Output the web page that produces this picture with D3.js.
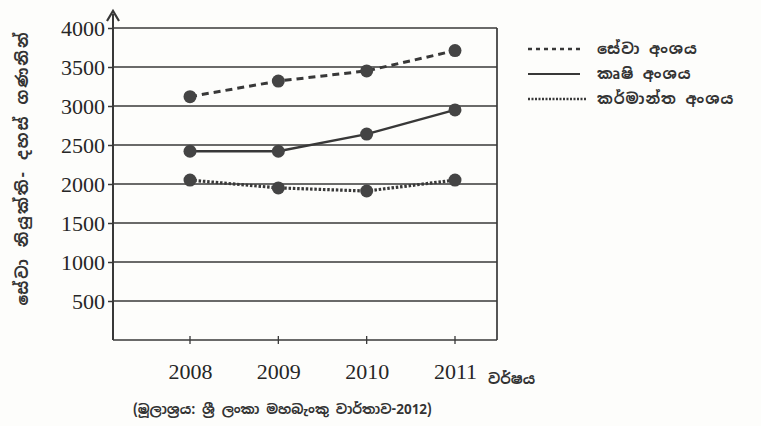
<!DOCTYPE html>
<html><head><meta charset="utf-8">
<script src="https://cdn.jsdelivr.net/npm/d3@7"></script>
<style>
body{margin:0;background:#fdfdfb;}
svg{display:block;}
.sin{font-family:"Noto Sans Sinhala","Noto Serif Sinhala","Iskoola Pota",sans-serif;}
</style></head>
<body><svg id="c" width="761" height="426"></svg>
<script>
const years = [2008, 2009, 2010, 2011];
const services = [3120, 3320, 3450, 3710];
const agriculture = [2420, 2420, 2640, 2950];
const industry = [2050, 1950, 1910, 2050];
const yTicks = [500, 1000, 1500, 2000, 2500, 3000, 3500, 4000];
const seriesNames = ["සේවා අංශය", "කෘෂි අංශය", "කර්මාන්ත අංශය"];
const yTitle = "සේවා නියුක්ති- දහස් ගණනින්";
const xTitle = "වර්ෂය";
const source = "(මූලාශ්‍රය: ශ්‍රී ලංකා මහබැංකු වාර්තාව-2012)";

const svg = d3.select("#c");
const ink = "#383838";
const L = 113, R = 497, T = 28, B = 340;
const y = d3.scaleLinear().domain([0, 4000]).range([B, T]);
const x = d3.scalePoint().domain(years).range([190, 455]);

// gridlines
svg.append("g").selectAll("line").data(yTicks).join("line")
  .attr("x1", L).attr("x2", R).attr("y1", d => y(d)).attr("y2", d => y(d))
  .attr("stroke", ink).attr("stroke-width", 1.7);
// right border & bottom
svg.append("line").attr("x1", R).attr("x2", R).attr("y1", T).attr("y2", B).attr("stroke", ink).attr("stroke-width", 1.7);
svg.append("line").attr("x1", L).attr("x2", R).attr("y1", B).attr("y2", B).attr("stroke", ink).attr("stroke-width", 1.7);

// y axis
const yAxis = d3.axisLeft(y).tickValues(yTicks).tickSize(5).tickFormat(d3.format("d"));
const gy = svg.append("g").attr("transform", `translate(${L},0)`).call(yAxis);
gy.select(".domain").remove();
gy.selectAll("line").attr("stroke", ink).attr("stroke-width", 1.5);
gy.selectAll("text").attr("x", -8).attr("font-family", "Liberation Serif, serif").attr("font-size", 22).attr("fill", "#262626");
// axis line with arrow
svg.append("line").attr("x1", L).attr("x2", L).attr("y1", 14).attr("y2", B).attr("stroke", ink).attr("stroke-width", 2);
svg.append("path").attr("d", `M${L-6},${21} L${L},${11} L${L+6},${21}`).attr("fill", "none").attr("stroke", ink).attr("stroke-width", 2.2);

// x axis
const xAxis = d3.axisBottom(x).tickSize(0).tickPadding(23);
const gx = svg.append("g").attr("transform", `translate(0,${B})`).call(xAxis);
gx.select(".domain").remove();
gx.selectAll("text").attr("font-family", "Liberation Serif, serif").attr("font-size", 22).attr("fill", "#262626");
svg.append("g").selectAll("line").data(years).join("line")
  .attr("x1", d => x(d)).attr("x2", d => x(d)).attr("y1", B - 4).attr("y2", B + 4)
  .attr("stroke", ink).attr("stroke-width", 1.3);

svg.append("text").attr("class", "sin").attr("x", 488).attr("y", 384).attr("font-size", 14.5).attr("font-weight", "bold").attr("fill", "#333").text(xTitle);
svg.append("text").attr("class", "sin").attr("transform", "translate(28,168) rotate(-90)").attr("text-anchor", "middle")
  .attr("font-size", 16).attr("letter-spacing", 2).attr("font-weight", "bold").attr("fill", "#333").text(yTitle);
svg.append("text").attr("class", "sin").attr("x", 133).attr("y", 414).attr("font-size", 13.5).attr("font-weight", "bold").attr("fill", "#333").text(source);

// series
const series = [
  {vals: services, dash: "7,5", w: 3},
  {vals: agriculture, dash: null, w: 2.4},
  {vals: industry, dash: "2.5,1.8", w: 3.2}
];
const line = d3.line().x((d, i) => x(years[i])).y(d => y(d));
series.forEach(s => {
  svg.append("path").datum(s.vals).attr("d", line).attr("fill", "none")
    .attr("stroke", ink).attr("stroke-width", s.w).attr("stroke-dasharray", s.dash);
  svg.append("g").selectAll("circle").data(s.vals).join("circle")
    .attr("cx", (d, i) => x(years[i])).attr("cy", d => y(d)).attr("r", 6.5).attr("fill", "#444");
});

// legend
const lg = svg.append("g");
series.forEach((s, i) => {
  const yy = 49 + i * 25;
  lg.append("line").attr("x1", 528).attr("x2", i === 2 ? 586 : 580).attr("y1", yy).attr("y2", yy)
    .attr("stroke", ink).attr("stroke-width", i === 1 ? 2 : 2.6).attr("stroke-dasharray", i === 0 ? "4,4" : (i === 2 ? "2,1.5" : null));
  lg.append("text").attr("class", "sin").attr("x", 597).attr("y", yy + 5).attr("font-size", 15).attr("letter-spacing", 1).attr("font-weight", "bold").attr("fill", "#333").text(seriesNames[i]);
});
</script></body></html>
